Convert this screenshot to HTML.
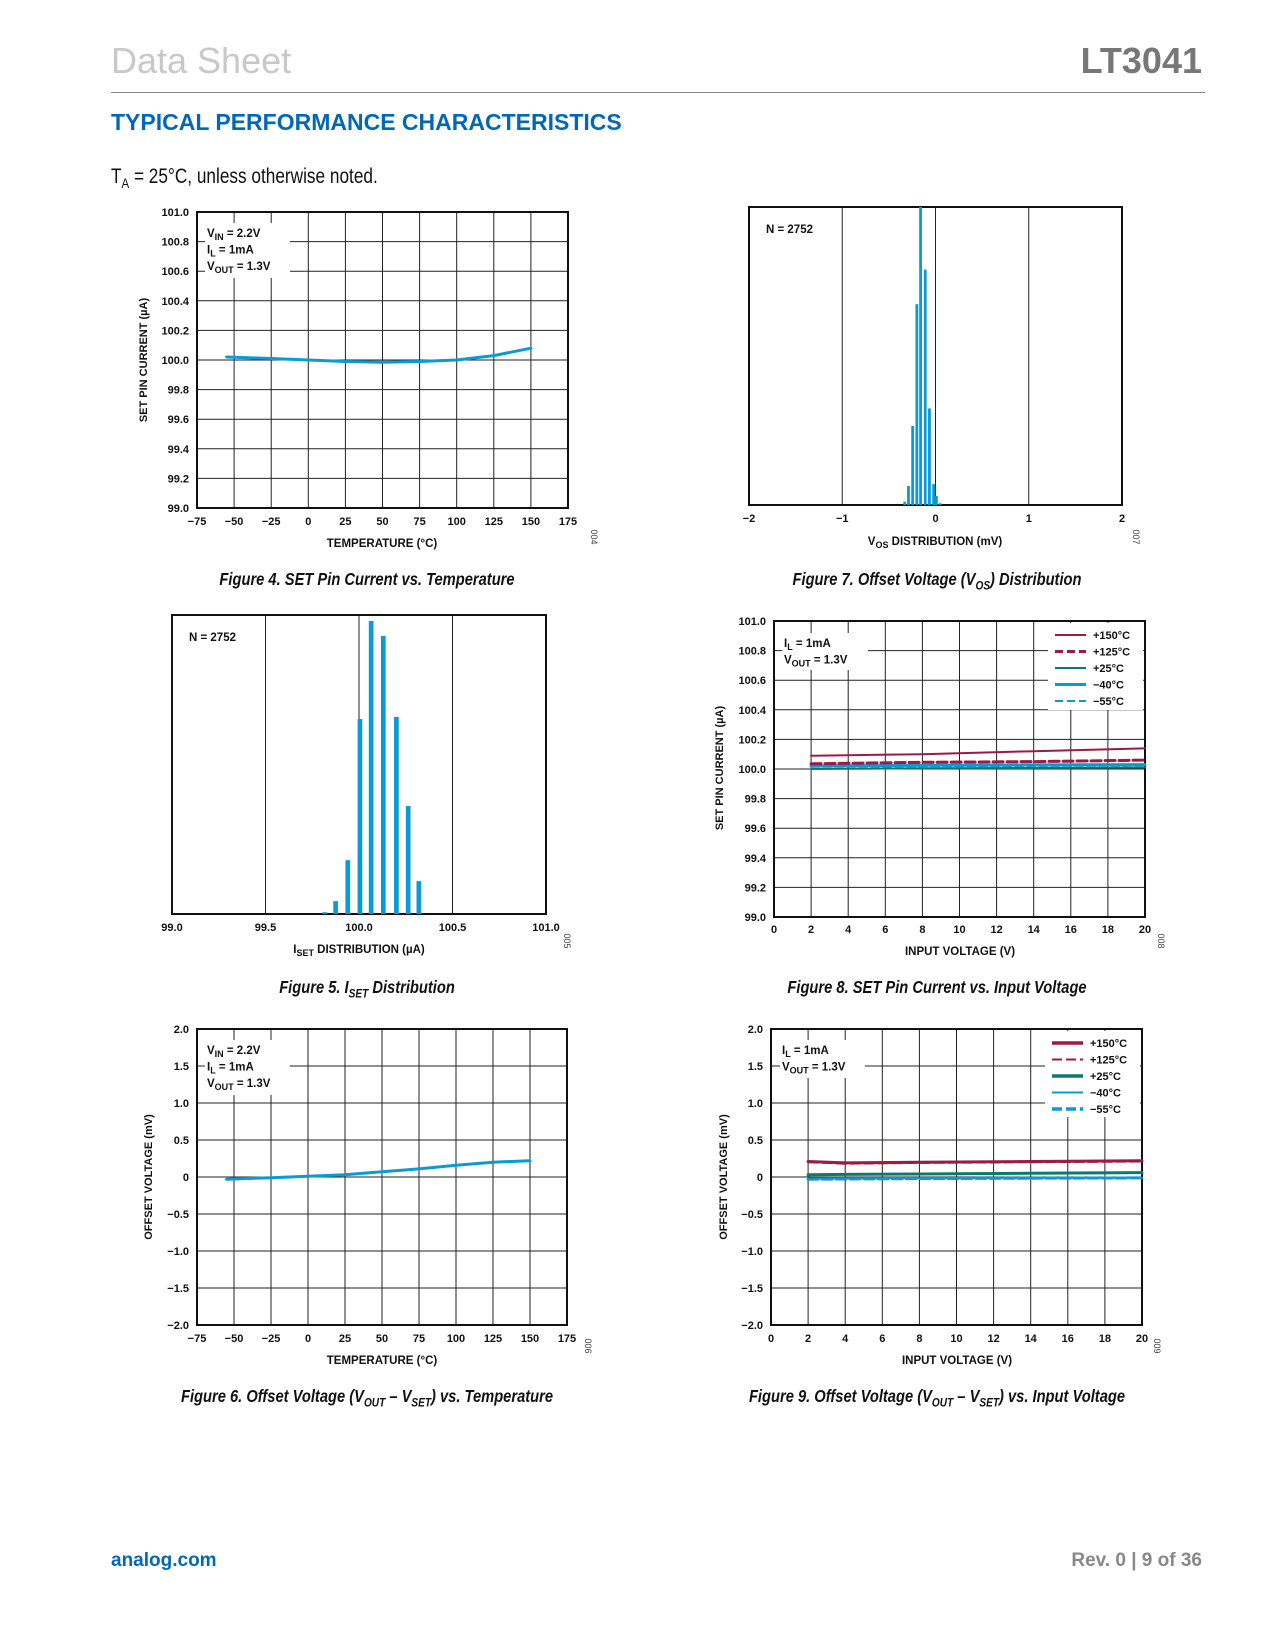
<!DOCTYPE html>
<html><head><meta charset="utf-8">
<style>
html,body{margin:0;padding:0;background:#fff;}
body{width:1275px;height:1650px;position:relative;overflow:hidden;font-family:"Liberation Sans",sans-serif;}
.abs{position:absolute;white-space:nowrap;}
.cap{position:absolute;font-family:"Liberation Sans Narrow","Liberation Sans",sans-serif;font-style:italic;font-weight:bold;font-size:17.5px;transform:translateX(-50%) scaleX(0.84);white-space:nowrap;color:#111;}
</style></head>
<body>
<div class="abs" style="left:111px;top:40px;font-size:36px;color:#c8c8c8;">Data Sheet</div>
<div class="abs" style="right:73px;top:40px;font-size:36px;font-weight:bold;color:#777;">LT3041</div>
<div class="abs" style="left:111px;top:92px;width:1094px;height:1px;background:#888;"></div>
<div class="abs" style="left:111px;top:109px;font-size:23px;font-weight:bold;color:#0067b9;">TYPICAL PERFORMANCE CHARACTERISTICS</div>
<div class="abs" style="left:111px;top:165px;font-size:21px;color:#111;transform:scaleX(0.82);transform-origin:left top;">T<sub style="font-size:14px">A</sub> = 25°C, unless otherwise noted.</div>

<div class="cap" style="left:367px;top:569px;">Figure 4. SET Pin Current vs. Temperature</div>
<div class="cap" style="left:937px;top:569px;">Figure 7. Offset Voltage (V<sub style="font-size:12px">OS</sub>) Distribution</div>
<div class="cap" style="left:367px;top:977px;">Figure 5. I<sub style="font-size:12px">SET</sub> Distribution</div>
<div class="cap" style="left:937px;top:977px;">Figure 8. SET Pin Current vs. Input Voltage</div>
<div class="cap" style="left:367px;top:1386px;">Figure 6. Offset Voltage (V<sub style="font-size:12px">OUT</sub> – V<sub style="font-size:12px">SET</sub>) vs. Temperature</div>
<div class="cap" style="left:937px;top:1386px;">Figure 9. Offset Voltage (V<sub style="font-size:12px">OUT</sub> – V<sub style="font-size:12px">SET</sub>) vs. Input Voltage</div>

<div class="abs" style="left:111px;top:1550px;font-size:19px;font-weight:bold;color:#0067b9;">analog.com</div>
<div class="abs" style="right:73px;top:1550px;font-size:19px;font-weight:bold;color:#888;">Rev. 0 | 9 of 36</div>

<svg id="svg" width="1275" height="1650" style="position:absolute;left:0;top:0;" xmlns="http://www.w3.org/2000/svg" font-family="Liberation Sans, sans-serif"></svg>

<script>
// ---------- data ----------
const f4Temps = [-55, -25, 0, 25, 50, 75, 100, 125, 150];
const f4Iset = [100.02, 100.01, 100.0, 99.99, 99.985, 99.99, 100.0, 100.03, 100.08];
const f6Temps = [-55, -25, 0, 25, 50, 75, 100, 125, 150];
const f6Vos = [-0.03, -0.01, 0.01, 0.03, 0.07, 0.11, 0.16, 0.2, 0.22];
const tempTicks = ["−75","−50","−25","0","25","50","75","100","125","150","175"];
const isetTicks = ["99.0","99.2","99.4","99.6","99.8","100.0","100.2","100.4","100.6","100.8","101.0"];
const vosTicks = ["−2.0","−1.5","−1.0","−0.5","0","0.5","1.0","1.5","2.0"];
const vinTicks = ["0","2","4","6","8","10","12","14","16","18","20"];
const f7Bins = [-0.33, -0.29, -0.245, -0.2, -0.16, -0.11, -0.065, -0.02, 0.01, 0.05];
const f7Counts = [0.011, 0.064, 0.265, 0.674, 1.0, 0.79, 0.324, 0.07, 0.03, 0.006];
const f7Ticks = ["−2","−1","0","1","2"];
const f5Bins = [99.817, 99.875, 99.94, 100.005, 100.065, 100.13, 100.2, 100.263, 100.32];
const f5Counts = [0.006, 0.043, 0.18, 0.652, 0.98, 0.93, 0.659, 0.361, 0.11];
const f5Ticks = ["99.0","99.5","100.0","100.5","101.0"];
const vinX = [2, 8, 14, 20];
const f8Hot150 = [100.09, 100.10, 100.12, 100.14];
const f8Hot125 = [100.035, 100.045, 100.05, 100.06];
const f8Room25 = [100.0, 100.005, 100.007, 100.01];
const f8Cold40 = [100.02, 100.025, 100.028, 100.03];
const f8Cold55 = [100.015, 100.018, 100.02, 100.025];
const vinX9 = [2, 4, 8, 14, 20];
const f9Hot150 = [0.21, 0.19, 0.2, 0.21, 0.22];
const f9Hot125 = [0.2, 0.18, 0.19, 0.2, 0.21];
const f9Room25 = [0.03, 0.035, 0.04, 0.05, 0.06];
const f9Cold40 = [-0.02, -0.018, -0.015, -0.012, -0.01];
const f9Cold55 = [-0.03, -0.027, -0.022, -0.016, -0.012];

const NS = "http://www.w3.org/2000/svg";
const svg = document.getElementById('svg');
const BLUE = "#0a9bd4", MAROON = "#9b1b44", TEAL = "#0b7a6e";
function mk(tag, attrs, parent) {
  const e = document.createElementNS(NS, tag);
  for (const k in attrs) e.setAttribute(k, attrs[k]);
  (parent || svg).appendChild(e);
  return e;
}
function txt(x, y, s, size, anchor, parent, extra) {
  const t = mk('text', Object.assign({x: x, y: y, 'font-size': size, 'font-weight': 'bold', 'text-anchor': anchor || 'middle', fill: '#111'}, extra || {}), parent);
  t.innerHTML = s;
  return t;
}
function scale(d0, d1, r0, r1) { return v => r0 + (v - d0) / (d1 - d0) * (r1 - r0); }

function frame(name, L, R, T, B, xTicks, yTicks, xDom, yDom, xGridVals, yGridVals, xTickY) {
  const g = mk('g', {});
  
  
  const sx = scale(xDom[0], xDom[1], L, R), sy = scale(yDom[0], yDom[1], B, T);
  xGridVals.forEach(v => {
    const l = mk('line', {x1: sx(v), x2: sx(v), y1: T, y2: B, stroke: '#222', 'stroke-width': 1}, g);
    
  });
  yGridVals.forEach(v => {
    const l = mk('line', {x1: L, x2: R, y1: sy(v), y2: sy(v), stroke: '#222', 'stroke-width': 1}, g);
    
  });
  const r = mk('rect', {x: L, y: T, width: R - L, height: B - T, fill: 'none', stroke: '#111', 'stroke-width': 2}, g);
  
  xTicks.forEach((s, i) => {
    const v = xDom[0] + i * (xDom[1] - xDom[0]) / (xTicks.length - 1);
    const t = txt(sx(v), xTickY, s, 11, 'middle', g);
    
  });
  if (yTicks) yTicks.forEach((s, i) => {
    const v = yDom[0] + i * (yDom[1] - yDom[0]) / (yTicks.length - 1);
    const t = txt(L - 8, sy(v) + 4, s, 11, 'end', g);
    
  });
  return {g, sx, sy};
}
function series(c, xs, ys, color, width, dash, name) {
  const d = xs.map((x, i) => (i ? 'L' : 'M') + c.sx(x).toFixed(1) + ',' + c.sy(ys[i]).toFixed(1)).join(' ');
  const p = mk('path', {d: d, fill: 'none', stroke: color, 'stroke-width': width, 'stroke-linecap': 'round', 'stroke-dasharray': dash || 'none'}, c.g);
  
  
}
function bars(c, bins, counts, w, name) {
  bins.forEach((b, i) => {
    const y0 = c.sy(0), y1 = c.sy(counts[i]);
    const r = mk('rect', {x: c.sx(b) - w / 2, y: y1, width: w, height: y0 - y1, fill: BLUE}, c.g);
    
    
  });
}
function box(g, x, y, w, h, lines, name) {
  const r = mk('rect', {x: x, y: y, width: w, height: h, fill: '#fff'}, g);
  
  lines.forEach((s, i) => {
    const t = txt(x + 2, y + 14 + i * 16.5, s, 11.5, 'start', g);
    
  });
}
function ytitle(x, y, s, name) {
  const t = txt(x, y, s, 11, 'middle', svg, {transform: 'rotate(-90 ' + x + ' ' + y + ')'});
  
}
function xtitle(x, y, s, name) {
  const t = txt(x, y, s, 11.5, 'middle');
  
}
function code(x, y, s) {
  const t = mk('text', {x: x, y: y, 'font-size': 9, fill: '#444', 'text-anchor': 'middle', transform: 'rotate(90 ' + x + ' ' + y + ')'});
  t.textContent = s;
  
}
function legend(g, x, y0, entries, name) {
  entries.forEach((e, i) => {
    const y = y0 + i * 16.5;
    const l = mk('line', {x1: x, x2: x + 31, y1: y, y2: y, stroke: e[1], 'stroke-width': e[2], 'stroke-dasharray': e[3] || 'none'}, g);
    
    const t = txt(x + 38, y + 4, e[0], 11, 'start', g);
    
  });
}
const sub = s => '<tspan font-size="9" dy="3">' + s + '</tspan><tspan dy="-3"> </tspan>';
const range = (a, b, s) => { const o = []; for (let v = a; v <= b + 1e-9; v += s) o.push(+v.toFixed(4)); return o; };

// Figure 4
let c4 = frame('figure-4-chart', 197, 568, 212, 508, tempTicks, isetTicks, [-75, 175], [99, 101], range(-50, 150, 25), range(99.2, 100.8, 0.2), 525);
box(c4.g, 205, 223, 85, 55, ['V' + sub('IN') + '= 2.2V', 'I' + sub('L') + '= 1mA', 'V' + sub('OUT') + '= 1.3V'], 'annotation-box');
series(c4, f4Temps, f4Iset, BLUE, 3, null, 'iset-vs-temp-line');
ytitle(147, 360, 'SET PIN CURRENT (µA)', 'y-axis-title');
xtitle(382, 547, 'TEMPERATURE (°C)', 'x-axis-title');
code(591, 537, '004');

// Figure 7
let c7 = frame('figure-7-chart', 749, 1122, 207, 505, f7Ticks, null, [-2, 2], [0, 1], [-1, 0, 1], [], 522);
bars(c7, f7Bins, f7Counts, 2.8, 'vos-histogram-bar');
let n7 = txt(766, 233, 'N = 2752', 11.5, 'start', c7.g); 
xtitle(935, 545, 'V' + sub('OS') + 'DISTRIBUTION (mV)', 'x-axis-title');
code(1133, 537, '007');

// Figure 5
let c5 = frame('figure-5-chart', 172, 546, 615, 914, f5Ticks, null, [99, 101], [0, 1], [99.5, 100, 100.5], [], 931);
bars(c5, f5Bins, f5Counts, 4.7, 'iset-histogram-bar');
let n5 = txt(189, 641, 'N = 2752', 11.5, 'start', c5.g); 
xtitle(359, 953, 'I' + sub('SET') + 'DISTRIBUTION (µA)', 'x-axis-title');
code(564, 941, '005');

// Figure 8
let c8 = frame('figure-8-chart', 774, 1145, 621, 917, vinTicks, isetTicks, [0, 20], [99, 101], range(2, 18, 2), range(99.2, 100.8, 0.2), 933);
box(c8.g, 782, 633, 86, 37, ['I' + sub('L') + '= 1mA', 'V' + sub('OUT') + '= 1.3V'], 'annotation-box');
let lb8 = mk('rect', {x: 1048, y: 623, width: 95, height: 87, fill: '#fff'}, c8.g); 
series(c8, vinX, f8Room25, TEAL, 2, null, 'series-25c');
series(c8, vinX, f8Cold40, BLUE, 3, null, 'series-minus40c');
series(c8, vinX, f8Cold55, BLUE, 2, '8,4', 'series-minus55c');
series(c8, vinX, f8Hot125, MAROON, 3, '10,4', 'series-125c');
series(c8, vinX, f8Hot150, MAROON, 2, null, 'series-150c');
legend(c8.g, 1055, 635, [['+150°C', MAROON, 2], ['+125°C', MAROON, 3, '8,4'], ['+25°C', TEAL, 2], ['−40°C', BLUE, 3], ['−55°C', BLUE, 2, '8,4']], 'legend-entry');
ytitle(723, 768, 'SET PIN CURRENT (µA)', 'y-axis-title');
xtitle(960, 955, 'INPUT VOLTAGE (V)', 'x-axis-title');
code(1158, 941, '008');

// Figure 6
let c6 = frame('figure-6-chart', 197, 567, 1029, 1325, tempTicks, vosTicks, [-75, 175], [-2, 2], range(-50, 150, 25), range(-1.5, 1.5, 0.5), 1342);
box(c6.g, 205, 1040, 85, 55, ['V' + sub('IN') + '= 2.2V', 'I' + sub('L') + '= 1mA', 'V' + sub('OUT') + '= 1.3V'], 'annotation-box');
series(c6, f6Temps, f6Vos, BLUE, 3, null, 'vos-vs-temp-line');
ytitle(152, 1177, 'OFFSET VOLTAGE (mV)', 'y-axis-title');
xtitle(382, 1364, 'TEMPERATURE (°C)', 'x-axis-title');
code(585, 1346, '006');

// Figure 9
let c9 = frame('figure-9-chart', 771, 1142, 1029, 1325, vinTicks, vosTicks, [0, 20], [-2, 2], range(2, 18, 2), range(-1.5, 1.5, 0.5), 1342);
box(c9.g, 780, 1040, 85, 38, ['I' + sub('L') + '= 1mA', 'V' + sub('OUT') + '= 1.3V'], 'annotation-box');
let lb9 = mk('rect', {x: 1045, y: 1031, width: 95, height: 86, fill: '#fff'}, c9.g); 
series(c9, vinX9, f9Room25, TEAL, 3, null, 'series-25c');
series(c9, vinX9, f9Cold40, BLUE, 2, null, 'series-minus40c');
series(c9, vinX9, f9Cold55, BLUE, 3, '10,4', 'series-minus55c');
series(c9, vinX9, f9Hot125, MAROON, 2, '10,4', 'series-125c');
series(c9, vinX9, f9Hot150, MAROON, 3, null, 'series-150c');
legend(c9.g, 1052, 1043, [['+150°C', MAROON, 3.5], ['+125°C', MAROON, 2, '10,4'], ['+25°C', TEAL, 3.5], ['−40°C', BLUE, 2], ['−55°C', BLUE, 3.5, '10,4']], 'legend-entry');
ytitle(727, 1177, 'OFFSET VOLTAGE (mV)', 'y-axis-title');
xtitle(957, 1364, 'INPUT VOLTAGE (V)', 'x-axis-title');
code(1154, 1346, '009');
</script>
</body></html>
